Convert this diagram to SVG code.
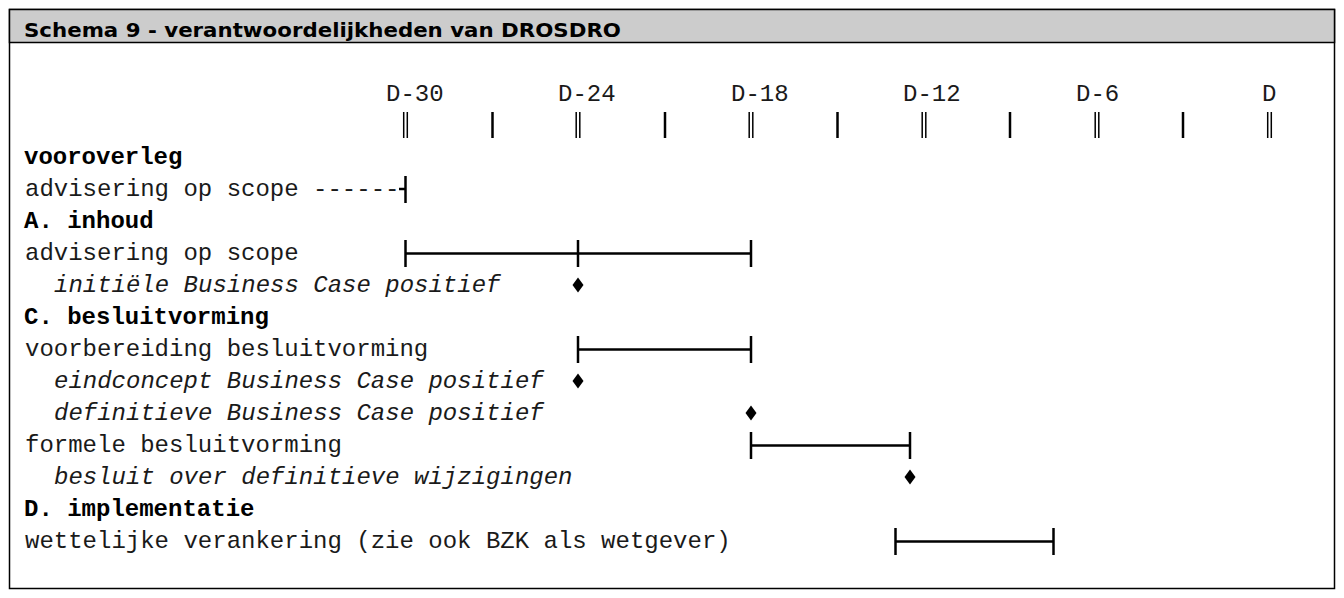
<svg xmlns="http://www.w3.org/2000/svg" width="1344" height="598" viewBox="0 0 1344 598">
<style>
.t{font-family:"Liberation Mono","Courier New",monospace;font-size:24px;fill:#1a1a1a;}
.b{font-weight:bold;fill:#000;}
.i{font-style:italic;}
.title{font-family:"DejaVu Sans",Verdana,sans-serif;font-weight:bold;font-size:20px;fill:#000;}
.bar{stroke:#000;stroke-width:2.5;fill:none;}
.tk{stroke:#000;stroke-width:2.5;}
.dt{stroke:#000;stroke-width:1.5;}
.dia{fill:#000;}
</style>
<defs>
<polygon id="diamond" points="0,-7.5 5.5,0 0,7.5 -5.5,0"/>
<g id="dbl"><line class="dt" x1="-1.8" y1="112" x2="-1.8" y2="138"/><line class="dt" x1="1.8" y1="112" x2="1.8" y2="138"/></g>
</defs>
<rect x="0" y="0" width="1344" height="598" fill="#fff"/>
<g id="frame">
<rect x="9.5" y="9.5" width="1325" height="579" fill="#fff" stroke="#000" stroke-width="1.5"/>
<rect x="9.5" y="9.5" width="1325" height="33" fill="#cccccc" stroke="#000" stroke-width="1.5"/>
<text class="title" x="24" y="37" textLength="597" lengthAdjust="spacingAndGlyphs">Schema 9 - verantwoordelijkheden van DROSDRO</text>
</g>
<g id="timeline">
<text class="t" x="386" y="101">D-30</text>
<text class="t" x="558" y="101">D-24</text>
<text class="t" x="731" y="101">D-18</text>
<text class="t" x="903" y="101">D-12</text>
<text class="t" x="1076" y="101">D-6</text>
<text class="t" x="1262" y="101">D</text>
<use href="#dbl" x="405.5"/>
<use href="#dbl" x="578"/>
<use href="#dbl" x="751"/>
<use href="#dbl" x="924"/>
<use href="#dbl" x="1097"/>
<use href="#dbl" x="1269.5"/>
<line class="tk" x1="492.5" y1="112" x2="492.5" y2="138"/>
<line class="tk" x1="665" y1="112" x2="665" y2="138"/>
<line class="tk" x1="837.5" y1="112" x2="837.5" y2="138"/>
<line class="tk" x1="1010" y1="112" x2="1010" y2="138"/>
<line class="tk" x1="1183" y1="112" x2="1183" y2="138"/>
</g>
<g id="vooroverleg"><text class="t b" x="24" y="164">vooroverleg</text></g>
<g id="vooroverleg-advisering"><text class="t" x="25" y="196">advisering op scope ------</text></g>
<g id="a-inhoud"><text class="t b" x="24" y="228">A. inhoud</text></g>
<g id="a-advisering"><text class="t" x="25" y="260">advisering op scope</text></g>
<g id="a-initiele"><text class="t i" x="54" y="292">initiële Business Case positief</text><use href="#diamond" class="dia" x="578" y="285"/></g>
<g id="c-besluitvorming"><text class="t b" x="24" y="324">C. besluitvorming</text></g>
<g id="c-voorbereiding"><text class="t" x="25" y="356">voorbereiding besluitvorming</text></g>
<g id="c-eindconcept"><text class="t i" x="54" y="388">eindconcept Business Case positief</text><use href="#diamond" class="dia" x="578" y="381"/></g>
<g id="c-definitieve"><text class="t i" x="54" y="420">definitieve Business Case positief</text><use href="#diamond" class="dia" x="751" y="413"/></g>
<g id="c-formele"><text class="t" x="25" y="452">formele besluitvorming</text></g>
<g id="c-besluit"><text class="t i" x="54" y="484">besluit over definitieve wijzigingen</text><use href="#diamond" class="dia" x="910" y="477"/></g>
<g id="d-implementatie"><text class="t b" x="24" y="516">D. implementatie</text></g>
<g id="d-wettelijke"><text class="t" x="25" y="548">wettelijke verankering (zie ook BZK als wetgever)</text></g>
<g id="connectors">
<line class="bar" x1="399" y1="189" x2="405.5" y2="189" stroke-width="1.5"/>
<line class="bar" x1="405.5" y1="176" x2="405.5" y2="203"/>
<line class="bar" x1="405.5" y1="253.5" x2="751" y2="253.5"/>
<line class="bar" x1="405.5" y1="240" x2="405.5" y2="267"/>
<line class="bar" x1="578" y1="240" x2="578" y2="267"/>
<line class="bar" x1="751" y1="240" x2="751" y2="267"/>
<line class="bar" x1="578" y1="349.5" x2="751" y2="349.5"/>
<line class="bar" x1="578" y1="336" x2="578" y2="363"/>
<line class="bar" x1="751" y1="336" x2="751" y2="363"/>
<line class="bar" x1="751" y1="445.5" x2="910" y2="445.5"/>
<line class="bar" x1="751" y1="432" x2="751" y2="459"/>
<line class="bar" x1="910" y1="432" x2="910" y2="459"/>
<line class="bar" x1="895.5" y1="541.5" x2="1053.5" y2="541.5"/>
<line class="bar" x1="895.5" y1="528" x2="895.5" y2="555"/>
<line class="bar" x1="1053.5" y1="528" x2="1053.5" y2="555"/>
</g>
</svg>
